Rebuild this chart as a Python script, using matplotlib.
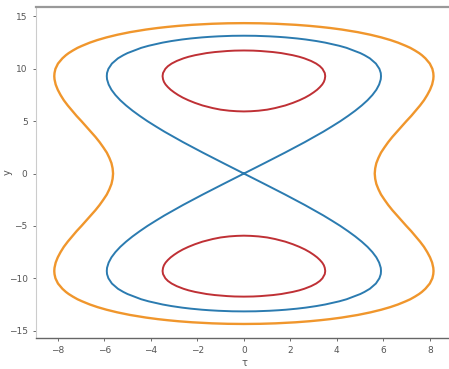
import numpy as np
import matplotlib
matplotlib.use('Agg')
import matplotlib.pyplot as plt
from matplotlib.patches import Polygon

plt.rcParams['font.family'] = ['Liberation Sans Narrow', 'DejaVu Sans']

# Pontos (quarto superior direito de cada curva, do topo para baixo)
sep_x = [0.0, 0.5, 1.1, 1.49, 1.8, 2.28, 2.66, 3.12, 3.5, 4.1, 4.42, 5.01, 5.19, 5.42, 5.68, 5.83, 5.89, 5.9,
         5.89, 5.82, 5.7, 5.53, 5.32, 5.07, 4.79, 4.48, 4.15, 3.79, 3.42, 2.62, 1.77, 0.89, 0.0]
sep_y = [13.16, 13.15, 13.1, 13.05, 13.0, 12.9, 12.8, 12.65, 12.5, 12.2, 12.0, 11.5, 11.3, 11.0, 10.5, 10.0, 9.6, 9.3,
         9.0, 8.5, 8.0, 7.5, 7.0, 6.5, 6.0, 5.5, 5.0, 4.5, 4.0, 3.0, 2.0, 1.0, 0.0]

out_x = [0.0, 0.7, 1.37, 2.23, 2.82, 3.29, 3.7, 4.21, 4.9, 5.45, 5.91, 6.3, 6.63, 6.96, 7.16, 7.36, 7.54, 7.66,
         7.81, 8.0, 8.11, 8.15, 8.16, 8.15, 8.1, 8.01, 7.89, 7.75, 7.58, 7.39, 7.2, 6.99, 6.79, 6.59, 6.39, 6.21,
         6.05, 5.9, 5.79, 5.7, 5.65, 5.63]
out_y = [14.36, 14.345, 14.3, 14.2, 14.1, 14.0, 13.9, 13.75, 13.5, 13.25, 13.0, 12.75, 12.5, 12.2, 12.0, 11.75, 11.5, 11.3,
         11.0, 10.5, 10.0, 9.6, 9.3, 9.0, 8.5, 8.0, 7.5, 7.0, 6.5, 6.0, 5.5, 5.0, 4.5, 4.0, 3.5, 3.0,
         2.5, 2.0, 1.5, 1.0, 0.5, 0.0]

in_x = [0.0, 0.4, 0.71, 1.25, 1.61, 2.1, 2.38, 2.6, 2.89, 3.11, 3.27, 3.38, 3.48, 3.5, 3.48, 3.44, 3.37, 3.27,
        3.15, 3.0, 2.83, 2.63, 2.39, 2.11, 1.78, 1.34, 1.0, 0.63, 0.3, 0.0]
in_y = [11.75, 11.736, 11.7, 11.6, 11.5, 11.3, 11.15, 11.0, 10.75, 10.5, 10.25, 10.0, 9.6, 9.3, 9.0, 8.75, 8.5, 8.25,
        8.0, 7.75, 7.5, 7.25, 7.0, 6.75, 6.5, 6.25, 6.1, 6.0, 5.95, 5.93]

x_ticks = [-8, -6, -4, -2, 0, 2, 4, 6, 8]
y_ticks = [-15, -10, -5, 0, 5, 10, 15]


def eight(qx, qy):
    # separatriz em forma de oito, um caminho fechado passando pela origem
    qx, qy = np.array(qx), np.array(qy)
    xs = np.concatenate([qx[::-1], -qx[1:], qx[::-1][1:], -qx[1:-1]])
    ys = np.concatenate([qy[::-1], qy[1:], -qy[::-1][1:], -qy[1:-1]])
    return np.column_stack([xs, ys])


def loop(qx, qy, sign=1):
    # laco simetrico em x (curvas vermelhas)
    qx, qy = np.array(qx), sign * np.array(qy)
    xs = np.concatenate([qx, -qx[::-1][1:-1]])
    ys = np.concatenate([qy, qy[::-1][1:-1]])
    return np.column_stack([xs, ys])


def outer(qx, qy):
    # curva fechada simetrica em x e y
    qx, qy = np.array(qx), np.array(qy)
    xs = np.concatenate([qx, qx[::-1][1:], -qx[1:], -qx[::-1][1:-1]])
    ys = np.concatenate([qy, -qy[::-1][1:], -qy[1:], qy[::-1][1:-1]])
    return np.column_stack([xs, ys])


fig = plt.figure(figsize=(4.49, 3.69), dpi=100)
ax = fig.add_axes([0.080, 0.084, 0.929, 0.897])

blue = '#2b7bb0'
orange = '#f0962c'
red = '#bf3035'
kw = dict(closed=True, fill=False, joinstyle='round')

ax.add_patch(Polygon(eight(sep_x, sep_y), edgecolor=blue, lw=1.4, **kw))
ax.add_patch(Polygon(outer(out_x, out_y), edgecolor=orange, lw=1.7, **kw))
ax.add_patch(Polygon(loop(in_x, in_y), edgecolor=red, lw=1.4, **kw))
ax.add_patch(Polygon(loop(in_x, in_y, -1), edgecolor=red, lw=1.4, **kw))

ax.set_xlim(-8.95, 9.0)
ax.set_ylim(-15.7, 15.9)
ax.set_xticks(x_ticks)
ax.set_yticks(y_ticks)
ax.tick_params(labelsize=6.5, length=2.5, width=0.6, colors='#555555')
ax.set_xlabel('τ', fontsize=7, color='#555555', labelpad=2)
ax.set_ylabel('y', fontsize=7, color='#555555')
ax.yaxis.set_label_coords(-0.055, 0.5)

ax.spines['left'].set_color('#cccccc')
ax.spines['left'].set_linewidth(0.8)
ax.spines['bottom'].set_color('#666666')
ax.spines['bottom'].set_linewidth(1.0)
ax.spines['top'].set_color('#999999')
ax.spines['top'].set_linewidth(1.6)
ax.spines['right'].set_visible(False)

fig.savefig('out.png', dpi=100)
